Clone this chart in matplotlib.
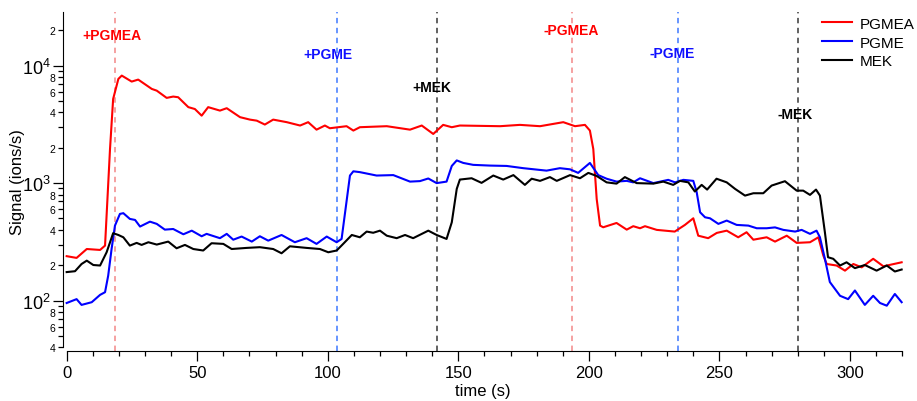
import matplotlib
matplotlib.use("Agg")
import matplotlib.pyplot as plt
import matplotlib.ticker as mticker
import numpy as np

plt.rcParams['font.family'] = ['Liberation Sans', 'DejaVu Sans']
plt.rcParams['mathtext.fontset'] = 'custom'
plt.rcParams['mathtext.rm'] = 'Liberation Sans'
plt.rcParams['mathtext.it'] = 'Liberation Sans:italic'

# PGMEA signal (time s, ions/s)
t_pgmea = [0, 3.8, 7.7, 12.8, 14.7, 16.6, 17.8, 19.8, 21.1, 24.9, 27.4, 32.6, 34.5,
           38.3, 40.8, 42.7, 46.6, 49.1, 51.7, 54.2, 58.7, 61.3, 66.4, 70.2, 72.8,
           75.9, 79.1, 84.3, 89.4, 92.5, 95.7, 98.9, 100.8, 107.2, 109.8, 112.3,
           122.6, 131.5, 136, 140.4, 144.2, 147.5, 150.6, 166, 173.6, 181.3, 190.2,
           194.7, 198.5, 200.4, 201.7, 203, 204.3, 205.5, 210.6, 214.5, 217, 219.6,
           221.5, 226, 232.9, 236.8, 240, 241.9, 245.7, 249, 252.8, 257.2, 260.4,
           263, 268.1, 271.3, 275.8, 279.6, 284.7, 287.9, 289.8, 291.1, 294.9,
           298.1, 301.3, 304.5, 308.9, 312.8, 319.8]
pgmea = [239, 231, 275, 270, 294, 1950, 5200, 7700, 8220, 7310, 7600, 6330, 6120,
         5310, 5450, 5380, 4430, 4270, 3750, 4430, 4140, 4340, 3640, 3470, 3400,
         3150, 3470, 3300, 3090, 3300, 2850, 3090, 2930, 3050, 2800, 2990,
         3050, 2850, 3090, 2620, 3130, 2990, 3090, 3050, 3130, 3050, 3300,
         3050, 3130, 2800, 1950, 733, 435, 421, 458, 402, 430, 413,
         430, 400, 387, 441, 502, 357, 340, 377, 394, 346, 382,
         330, 346, 318, 357, 310, 314, 346, 242, 205, 199,
         180, 205, 192, 227, 196, 212]

# PGME signal
t_pgme = [0, 3.8, 5.7, 9.6, 12.8, 14.7, 15.9, 17.2, 18.5, 20.4, 21.7, 24.2, 26.2,
          28.1, 31.9, 34.5, 37.6, 40.8, 44.7, 47.9, 51.7, 53.6, 58.7, 61.3, 63.8,
          67, 70.9, 74, 77.2, 82.3, 87.4, 91.9, 95.7, 99.6, 103.4, 105.3, 107.2,
          108.5, 109.8, 112.3, 118.7, 125.1, 131.5, 135.3, 138.5, 141.7, 145.5,
          147.5, 149.4, 151.9, 155.7, 162.1, 168.5, 174.9, 183.8, 188.9, 192.8,
          195.9, 200.4, 203.6, 206.8, 210.6, 214.5, 217, 219.6, 224.7, 230.4, 233,
          236.2, 240, 241.3, 242.6, 244.5, 246.4, 249.6, 252.8, 256.6, 261.1,
          264.3, 268.1, 271.3, 274.5, 279, 281.5, 284.7, 287.2, 288.5, 290.4,
          292.3, 296.2, 299.3, 301.9, 305.7, 308.9, 311.5, 314.1, 317.2, 319.8]
pgme = [95.5, 103, 92, 97, 112, 118, 163, 275, 435, 547, 555, 496, 486,
        427, 470, 450, 402, 407, 367, 394, 353, 370, 340, 370, 330,
        351, 318, 353, 324, 362, 314, 340, 304, 351, 314, 335, 700,
        1160, 1260, 1240, 1160, 1170, 1030, 1040, 1095, 1000, 1030,
        1400, 1560, 1485, 1430, 1410, 1400, 1340, 1277, 1340, 1310,
        1222, 1485, 1170, 1090, 1030, 1045, 1015, 1100, 1000, 1066, 1015,
        1066, 1045, 837, 565, 512, 502, 450, 480, 441, 435,
        413, 413, 420, 400, 387, 400, 370, 394, 346, 227,
        144, 110, 103, 122, 92, 110, 95.5, 90.6, 114, 97]

# MEK signal
t_mek = [0, 3.2, 5.7, 7.7, 10.2, 12.8, 15.3, 17.8, 19.8, 21.7, 24.2, 26.8, 28.7,
         31.3, 34.5, 38.9, 42.1, 45.3, 48.5, 52.3, 55.5, 60, 63.2, 68.9, 74, 79.1,
         82.3, 85.5, 91.9, 97, 100.2, 103.4, 105.9, 109.2, 112.3, 114.9, 117.4,
         120, 122.6, 126.4, 129.6, 132.7, 138.5, 141.7, 145.5, 147.5, 149.4,
         150.6, 155.1, 158.9, 163.4, 167.2, 171.1, 175.5, 178.1, 181.3, 185.1,
         187.7, 192.8, 196.6, 199.8, 203, 206.8, 210.6, 213.8, 218.3, 224.7,
         228.5, 232.3, 234.9, 238.1, 240.6, 243.2, 245.3, 248.9, 252.8, 256,
         259.8, 263, 266.8, 270, 275.1, 279.6, 282.1, 284.7, 287, 288.5, 290.4,
         291.6, 293.6, 296.2, 298.7, 301.9, 305.7, 310.2, 314.1, 317.2, 319.8]
mek = [175, 178, 205, 219, 201, 199, 258, 375, 362, 346, 294, 310, 298,
       314, 300, 318, 279, 298, 275, 267, 308, 304, 275, 281, 285, 275,
       253, 290, 281, 275, 258, 267, 304, 362, 346, 387, 378,
       394, 357, 340, 362, 340, 394, 362, 335, 464, 893,
       1072, 1100, 1005, 1160, 1072, 1170, 966, 1090, 1045, 1125,
       1045, 1170, 1100, 1222, 1150, 1015, 990, 1125, 1000, 990,
       1030, 966, 1045, 1015, 848, 966, 881, 1090, 1015, 893,
       783, 820, 820, 953, 1038, 863, 863, 794, 881, 783, 382,
       234, 227, 199, 212, 189, 201, 180, 199, 177, 184]

# events: label, time, label position (t, signal)
ev_labels = ['+PGMEA', '+PGME', '+MEK', '-PGMEA', '-PGME', '-MEK']
ev_times = [18.5, 103.5, 142, 193.5, 234, 280]
ev_text_t = [17.5, 100, 139.7, 193.4, 232, 279]
ev_text_y = [18200, 12600, 6600, 20200, 12750, 3880]
ev_colors = ['#ff0000', '#1010ff', '#000000', '#ff0000', '#1010ff', '#000000']
ev_line_colors = ['#f59a9a', '#5a8cff', '#555555', '#f59a9a', '#5a8cff', '#555555']

fig = plt.figure(figsize=(9.17, 4.02), dpi=100)
ax = fig.add_axes([0.069, 0.1251, 0.9154, 0.8418])

for t, c in zip(ev_times, ev_line_colors):
    ax.axvline(t, color=c, lw=1.3, ls=(0, (3, 2.5)), zorder=1)

ax.plot(t_pgmea, pgmea, color='#ff0000', lw=1.5, label='PGMEA', zorder=3)
ax.plot(t_pgme, pgme, color='#0000ff', lw=1.5, label='PGME', zorder=3)
ax.plot(t_mek, mek, color='#000000', lw=1.5, label='MEK', zorder=3)

for lab, tx, ty, c in zip(ev_labels, ev_text_t, ev_text_y, ev_colors):
    ax.text(tx, ty, lab, color=c, fontsize=10, fontweight='bold',
            ha='center', va='center')

ax.set_yscale('log')
ax.set_xlim(-1.3, 320.2)
ax.set_ylim(37.5, 28400)

ax.spines['top'].set_visible(False)
ax.spines['right'].set_visible(False)
ax.spines['left'].set_bounds(40, 28400)
ax.spines['bottom'].set_bounds(0, 320)

ax.xaxis.set_major_locator(mticker.MultipleLocator(50))
ax.xaxis.set_minor_locator(mticker.MultipleLocator(10))
ax.yaxis.set_major_locator(mticker.LogLocator(base=10, numticks=10))
ax.yaxis.set_minor_locator(mticker.LogLocator(base=10, subs=np.arange(2, 10), numticks=20))


def minor_fmt(v, pos):
    m = int(round(v / 10 ** np.floor(np.log10(v))))
    return str(m) if m in (2, 4, 6, 8) else ''


ax.yaxis.set_minor_formatter(mticker.FuncFormatter(minor_fmt))
ax.tick_params(axis='both', which='major', direction='out', length=7, width=0.9,
               labelsize=12)
ax.tick_params(axis='both', which='minor', direction='out', length=3.5, width=0.9)
ax.tick_params(axis='y', which='minor', labelsize=7.5, pad=2)
ax.tick_params(axis='y', which='major', labelsize=13, pad=2)

ax.set_xlabel('time (s)', fontsize=12, labelpad=2)
ax.set_ylabel('Signal (ions/s)', fontsize=12)
ax.yaxis.set_label_coords(-0.046, 0.5)

ax.legend(loc='upper left', bbox_to_anchor=(0.896, 0.956),
          bbox_transform=fig.transFigure, frameon=False, fontsize=11,
          handlelength=2.0, handletextpad=0.5, labelspacing=0.32,
          borderpad=0, borderaxespad=0)

fig.savefig('out.png', dpi=100)
